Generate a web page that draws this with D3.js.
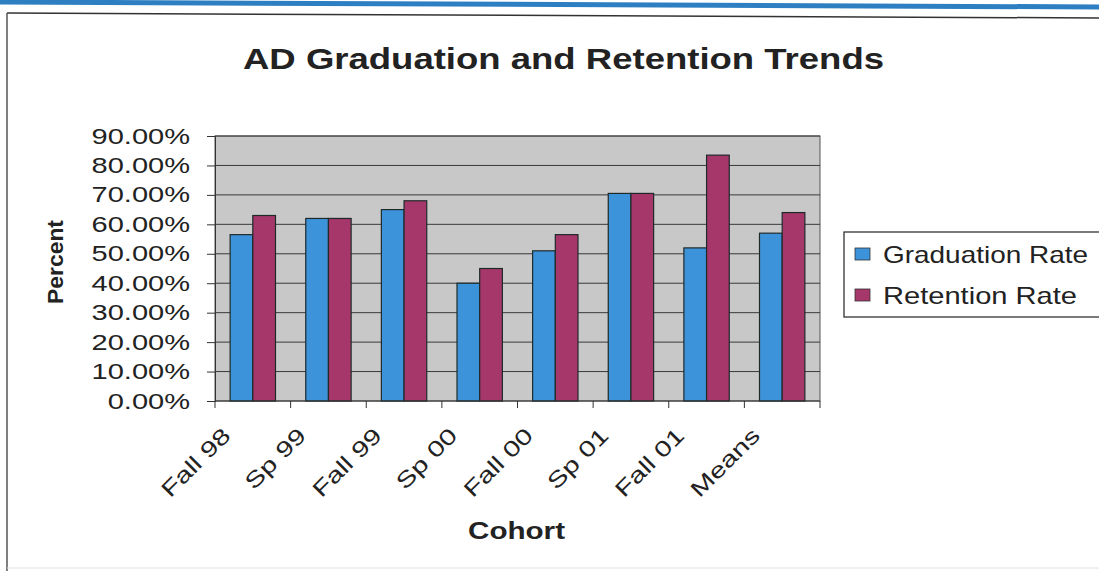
<!DOCTYPE html>
<html><head><meta charset="utf-8">
<script src="https://cdn.jsdelivr.net/npm/d3@7"></script>
<style>
html,body{margin:0;padding:0;background:#fff;}
svg{display:block;font-family:"Liberation Sans",Arial,sans-serif;}
</style></head>
<body>
<svg id="chart" width="1099" height="571"></svg>
<script>
const categories = ["Fall 98","Sp 99","Fall 99","Sp 00","Fall 00","Sp 01","Fall 01","Means"];
const seriesNames = ["Graduation Rate","Retention Rate"];
const graduationRate = [56.5, 62.0, 65.0, 40.0, 51.0, 70.5, 52.0, 57.0];
const retentionRate  = [63.0, 62.0, 68.0, 45.0, 56.5, 70.5, 83.5, 64.0];
const yTicks = [0,10,20,30,40,50,60,70,80,90];
const colors = ["#3d93da","#a5376a"];

const svg = d3.select("#chart");
// scanned page decorations
svg.append("line").attr("x1",0).attr("y1",2).attr("x2",1099).attr("y2",7)
  .attr("stroke","#2e7fc2").attr("stroke-width",5);
svg.append("line").attr("x1",7).attr("y1",13).attr("x2",1099).attr("y2",18)
  .attr("stroke","#333").attr("stroke-width",1.5);
svg.append("line").attr("x1",7).attr("y1",13).attr("x2",7).attr("y2",571)
  .attr("stroke","#555").attr("stroke-width",1.5);
svg.append("line").attr("x1",7).attr("y1",568).attr("x2",1099).attr("y2",568)
  .attr("stroke","#e2e2e2").attr("stroke-width",1);

const L=215,R=820,T=136,B=401;
const x = d3.scaleBand().domain(categories).range([L,R]).paddingInner(0.4).paddingOuter(0.2);
const xs = d3.scaleBand().domain(seriesNames).range([0,x.bandwidth()]);
const y = d3.scaleLinear().domain([0,90]).range([B,T]);

// plot background
svg.append("rect").attr("x",L).attr("y",T).attr("width",R-L).attr("height",B-T)
  .attr("fill","#c8c8c8").attr("stroke","#555").attr("stroke-width",1);
// gridlines
svg.append("g").selectAll("line").data(yTicks.slice(1)).join("line")
  .attr("x1",L).attr("x2",R).attr("y1",d=>y(d)).attr("y2",d=>y(d))
  .attr("stroke","#3a3a3a").attr("stroke-width",1);

// bars
const data = categories.map((c,i)=>({c, vals:[graduationRate[i],retentionRate[i]]}));
const g = svg.append("g").selectAll("g").data(data).join("g")
  .attr("transform",d=>`translate(${x(d.c)},0)`);
g.selectAll("rect").data(d=>d.vals.map((v,j)=>({v,s:seriesNames[j],j}))).join("rect")
  .attr("x",d=>xs(d.s)).attr("width",xs.bandwidth())
  .attr("y",d=>y(d.v)).attr("height",d=>B-y(d.v))
  .attr("fill",d=>colors[d.j]).attr("stroke","#1e2a2a").attr("stroke-width",1.2);

// y axis
const ya = svg.append("g").attr("transform",`translate(${L},0)`)
  .call(d3.axisLeft(y).tickValues(yTicks).tickSize(8).tickFormat(""));
ya.select(".domain").attr("stroke","#333");
ya.selectAll(".tick line").attr("stroke","#333");
svg.append("g").selectAll("text").data(yTicks).join("text")
  .attr("transform",d=>`translate(190,${y(d)+7.5}) scale(1.32,1)`)
  .attr("text-anchor","end").attr("font-size",22).attr("fill","#222")
  .text(d=>d3.format(".2%")(d/100));

// x axis
const boundaries = d3.range(categories.length+1).map(i=>L+i*x.step());
const xa = svg.append("g");
xa.append("line").attr("x1",L).attr("x2",R).attr("y1",B).attr("y2",B).attr("stroke","#333");
xa.selectAll(".tk").data(boundaries).join("line").attr("class","tk")
  .attr("x1",d=>d).attr("x2",d=>d).attr("y1",B).attr("y2",B+7).attr("stroke","#333");
svg.append("g").selectAll("text").data(categories).join("text")
  .attr("transform",d=>`translate(${x(d)+x.bandwidth()/2-21},437) rotate(-45) scale(1.32,1)`)
  .attr("text-anchor","end").attr("font-size",22).attr("fill","#222").text(d=>d);

// titles
svg.append("text").attr("x",243).attr("y",69).attr("font-size",30).attr("font-weight","bold")
  .attr("textLength",641).attr("lengthAdjust","spacingAndGlyphs").attr("fill","#222")
  .text("AD Graduation and Retention Trends");
svg.append("text").attr("x",468).attr("y",539).attr("font-size",23).attr("font-weight","bold")
  .attr("textLength",97).attr("lengthAdjust","spacingAndGlyphs").attr("fill","#222").text("Cohort");
svg.append("text").attr("transform","translate(63,304) rotate(-90)").attr("font-size",22)
  .attr("font-weight","bold").attr("textLength",84).attr("lengthAdjust","spacingAndGlyphs")
  .attr("fill","#222").text("Percent");

// legend
const lg = svg.append("g");
lg.append("rect").attr("x",844).attr("y",232).attr("width",260).attr("height",85)
  .attr("fill","#fff").attr("stroke","#222").attr("stroke-width",1.2);
const lgi = lg.selectAll("g").data(seriesNames).join("g")
  .attr("transform",(d,i)=>`translate(0,${i*41})`);
lgi.append("rect").attr("x",855).attr("y",248).attr("width",15).attr("height",12)
  .attr("fill",(d,i)=>colors[i]).attr("stroke","#333").attr("stroke-width",0.8);
lgi.append("text").attr("x",883).attr("y",263).attr("font-size",24).attr("fill","#222")
  .attr("textLength",(d,i)=>i===0?205:194).attr("lengthAdjust","spacingAndGlyphs").text(d=>d);
</script>
</body></html>
